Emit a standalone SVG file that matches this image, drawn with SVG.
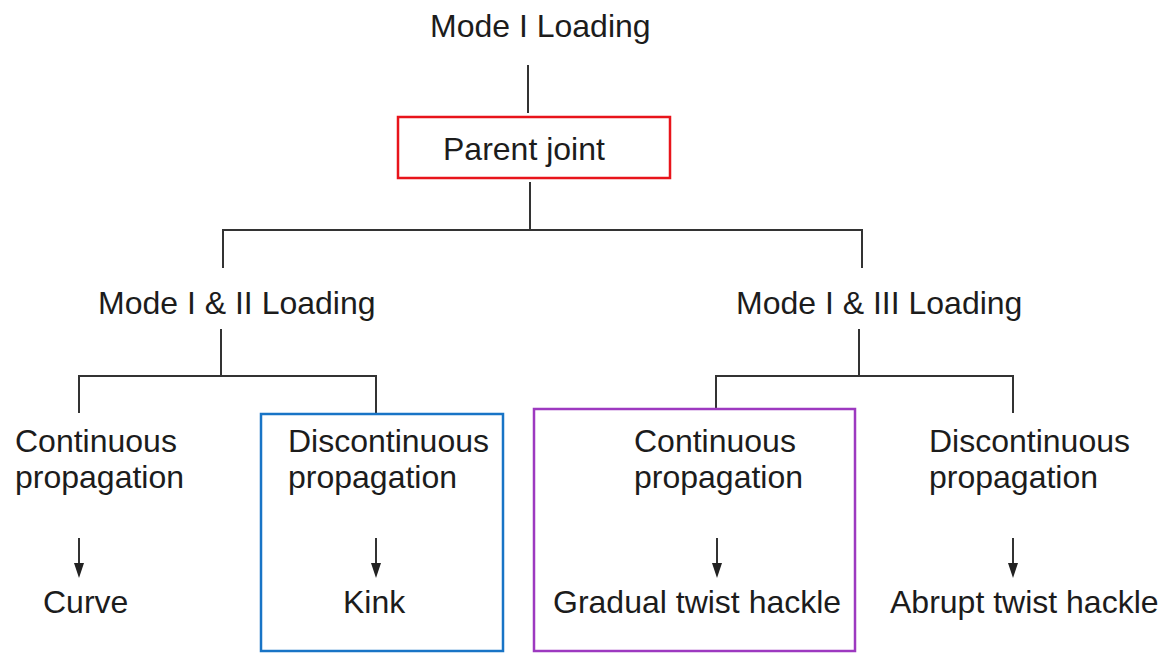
<svg xmlns="http://www.w3.org/2000/svg" width="1166" height="656" viewBox="0 0 1166 656">
  <style>
    .lbl { font-family: "Liberation Sans", Arial, sans-serif; font-size: 32px; fill: #1c1c1c; }
    .wire { stroke: #333; stroke-width: 2; fill: none; }
    .head { fill: #222; }
  </style>
  <rect width="1166" height="656" fill="#fff"/>

  <!-- tree connectors -->
  <g id="connectors">
    <path class="wire" d="M528,65 V113"/>
    <path class="wire" d="M530,182 V230 M223,268 V230 H862 V268"/>
    <path class="wire" d="M221,329 V376 M79,413 V376 H376 V414"/>
    <path class="wire" d="M859,329 V376 M716,410 V376 H1013 V413"/>
    <!-- downward arrows -->
    <path class="wire" d="M79,538 V564"/>
    <path class="head" d="M74,563 L84,563 L79,578 Z"/>
    <path class="wire" d="M376,538 V564"/>
    <path class="head" d="M371,563 L381,563 L376,578 Z"/>
    <path class="wire" d="M717,538 V564"/>
    <path class="head" d="M712,563 L722,563 L717,578 Z"/>
    <path class="wire" d="M1013,538 V564"/>
    <path class="head" d="M1008,563 L1018,563 L1013,578 Z"/>
  </g>

  <g id="mode1">
    <text class="lbl" x="430" y="37">Mode I Loading</text>
  </g>

  <g id="parent-joint">
    <rect x="398" y="117" width="272" height="61" fill="none" stroke="#e8141b" stroke-width="2.5"/>
    <text class="lbl" x="443" y="160">Parent joint</text>
  </g>

  <g id="mode12">
    <text class="lbl" x="98" y="314">Mode I &amp; II Loading</text>
  </g>

  <g id="mode13">
    <text class="lbl" x="736" y="314">Mode I &amp; III Loading</text>
  </g>

  <g id="cont-12">
    <text class="lbl" x="15" y="452">Continuous</text>
    <text class="lbl" x="15" y="488">propagation</text>
    <text class="lbl" x="43" y="613">Curve</text>
  </g>

  <g id="discont-12">
    <rect x="261" y="414" width="242" height="237" fill="none" stroke="#1874c6" stroke-width="2.5"/>
    <text class="lbl" x="288" y="452">Discontinuous</text>
    <text class="lbl" x="288" y="488">propagation</text>
    <text class="lbl" x="343" y="613">Kink</text>
  </g>

  <g id="cont-13">
    <rect x="534" y="409" width="321" height="242" fill="none" stroke="#9d39c0" stroke-width="2.5"/>
    <text class="lbl" x="634" y="452">Continuous</text>
    <text class="lbl" x="634" y="488">propagation</text>
    <text class="lbl" x="553" y="613">Gradual twist hackle</text>
  </g>

  <g id="discont-13">
    <text class="lbl" x="929" y="452">Discontinuous</text>
    <text class="lbl" x="929" y="488">propagation</text>
    <text class="lbl" x="890" y="613">Abrupt twist hackle</text>
  </g>
</svg>
